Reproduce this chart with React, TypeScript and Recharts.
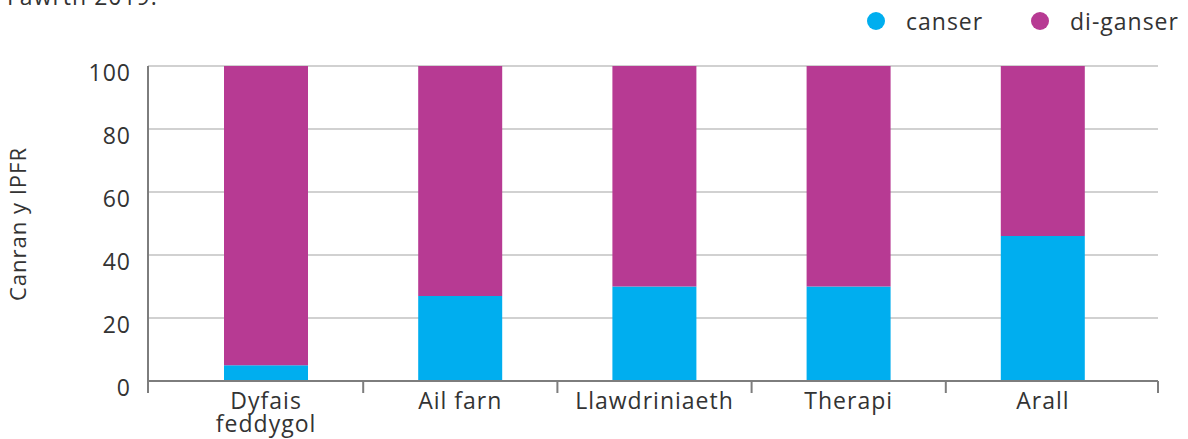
import { Bar, BarChart, CartesianGrid, XAxis, YAxis } from "recharts";

const CATEGORIES = ["Dyfais feddygol", "Ail farn", "Llawdriniaeth", "Therapi", "Arall"];
const CANSER = [5, 27, 30, 30, 46];
const DI_GANSER = [95, 73, 70, 70, 54];
const Y_TICKS = [0, 20, 40, 60, 80, 100];

const SERIES = [
  { key: "canser", name: "canser", color: "#00aeef", left: 867 },
  { key: "diGanser", name: "di-ganser", color: "#b73a93", left: 1031 },
];

const WIDTH = 1188;
const HEIGHT = 439;
const MARGIN = { top: 66, right: 30, bottom: 0, left: 0 };
const X_AXIS_HEIGHT = 58;
const Y_AXIS_WIDTH = 148;
const X_PAD = { left: 21, right: 18 };
const FONT = "'Open Sans', sans-serif";
const FONT_SIZE = 23;
const LETTER_SPACING = 1;
const TEXT_COLOR = "#333333";
const AXIS_COLOR = "#7d7d7d";
const GRID_COLOR = "#c2c2c2";

const data = CATEGORIES.map((name, i) => ({ name, canser: CANSER[i], diGanser: DI_GANSER[i] }));

// long labels with a space go on two lines, like the original
function wrapLabel(label: string) {
  if (label.length > 10 && label.includes(" ")) return label.split(" ");
  return [label];
}

function CategoryTick(props: any) {
  const { x, y, payload, index } = props;
  const plotWidth = WIDTH - MARGIN.left - Y_AXIS_WIDTH - MARGIN.right;
  const band = (plotWidth - X_PAD.left - X_PAD.right) / CATEGORIES.length;
  const left = x - band / 2 - (index === 0 ? X_PAD.left : 0);
  const right = x + band / 2 + X_PAD.right;
  const isLast = index === CATEGORIES.length - 1;
  const lines = wrapLabel(String(payload.value));
  return (
    <g>
      <line x1={left} x2={left} y1={y} y2={y + 12} stroke={AXIS_COLOR} strokeWidth={2} />
      {isLast && <line x1={right} x2={right} y1={y} y2={y + 12} stroke={AXIS_COLOR} strokeWidth={2} />}
      <text
        x={x}
        y={y + 28}
        textAnchor="middle"
        fill={TEXT_COLOR}
        style={{ fontFamily: FONT, fontSize: FONT_SIZE, letterSpacing: LETTER_SPACING }}
      >
        {lines.map((line, i) => (
          <tspan key={line} x={x} dy={i === 0 ? 0 : 23}>
            {line}
          </tspan>
        ))}
      </text>
    </g>
  );
}

function ValueTick(props: any) {
  const { x, y, payload } = props;
  return (
    <text
      x={x}
      y={y + 6}
      textAnchor="end"
      dominantBaseline="central"
      fill={TEXT_COLOR}
      style={{ fontFamily: FONT, fontSize: FONT_SIZE, letterSpacing: LETTER_SPACING }}
    >
      {payload.value}
    </text>
  );
}

export default function App() {
  return (
    <div style={{ position: "absolute", left: 0, top: 0, width: WIDTH, height: HEIGHT, overflow: "hidden", background: "#fff" }}>
      <div
        style={{
          position: "absolute",
          left: 7,
          top: -15,
          fontFamily: FONT,
          fontSize: FONT_SIZE,
          lineHeight: "22px",
          letterSpacing: LETTER_SPACING,
          color: TEXT_COLOR,
          whiteSpace: "nowrap",
        }}
      >
        Fawrth 2019.
      </div>

      {SERIES.map((s) => (
        <div
          key={s.key}
          style={{
            position: "absolute",
            left: s.left,
            top: 8,
            height: 26,
            display: "flex",
            alignItems: "center",
            fontFamily: FONT,
            fontSize: FONT_SIZE,
            letterSpacing: LETTER_SPACING,
            color: TEXT_COLOR,
          }}
        >
          <span style={{ width: 18, height: 18, borderRadius: 9, background: s.color, marginRight: 21 }} />
          <span>{s.name}</span>
        </div>
      ))}

      <div
        style={{
          position: "absolute",
          left: 17,
          top: 224,
          transform: "translate(-50%, -50%) rotate(-90deg)",
          fontFamily: FONT,
          fontSize: 22,
          letterSpacing: LETTER_SPACING,
          color: TEXT_COLOR,
          whiteSpace: "nowrap",
        }}
      >
        Canran y IPFR
      </div>

      <BarChart width={WIDTH} height={HEIGHT} data={data} margin={MARGIN} barSize={84}>
        <CartesianGrid vertical={false} stroke={GRID_COLOR} strokeWidth={1.6} />
        <XAxis
          dataKey="name"
          padding={X_PAD}
          tickLine={false}
          tickSize={0}
          tickMargin={0}
          interval={0}
          axisLine={{ stroke: AXIS_COLOR, strokeWidth: 2 }}
          tick={<CategoryTick />}
          height={X_AXIS_HEIGHT}
        />
        <YAxis
          width={Y_AXIS_WIDTH}
          domain={[0, 100]}
          ticks={Y_TICKS}
          interval={0}
          tickLine={false}
          tickSize={0}
          tickMargin={17}
          axisLine={{ stroke: AXIS_COLOR, strokeWidth: 2 }}
          tick={<ValueTick />}
        />
        {SERIES.map((s) => (
          <Bar key={s.key} dataKey={s.key} name={s.name} stackId="a" fill={s.color} isAnimationActive={false} />
        ))}
      </BarChart>
    </div>
  );
}
